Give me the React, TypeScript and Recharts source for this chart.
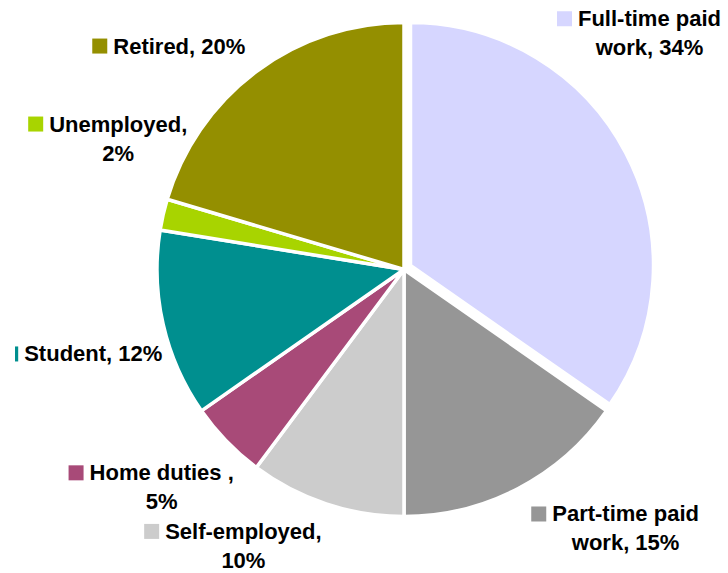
import React from 'react';
import { PieChart, Pie, Cell } from 'recharts';

// chart values (share of respondents, %)
const categories = [
  'Full-time paid work',
  'Part-time paid work',
  'Self-employed',
  'Home duties ',
  'Student',
  'Unemployed',
  'Retired',
];
const shares = [34, 15, 10, 5, 12, 2, 20];
const colors = ['#D6D6FF', '#969696', '#CCCCCC', '#A84A78', '#008F8F', '#A8D400', '#948F00'];

// how each data label is broken into lines (as in the original)
const labelLines = [
  ['Full-time paid', 'work, 34%'],
  ['Part-time paid', 'work, 15%'],
  ['Self-employed,', '10%'],
  ['Home duties ,', '5%'],
  ['Student, 12%'],
  ['Unemployed,', '2%'],
  ['Retired, 20%'],
];

// manual nudges of the labels, relative to the slice's arc midpoint
const labelNudge: [number, number][] = [
  [-45, -129],
  [34, 33],
  [-161, 35],
  [-137, 39],
  [-139, 37],
  [-114, -83],
  [-143, -18],
];

const data = categories.map((name, i) => ({ name, value: shares[i] }));

const FONT = 'bold 22px "Liberation Sans", Arial, sans-serif';
const RADIAN = Math.PI / 180;

let ctx: CanvasRenderingContext2D | null = null;
const measure = (s: string) => {
  if (!ctx) ctx = document.createElement('canvas').getContext('2d');
  if (!ctx) return s.length * 12;
  ctx.font = FONT;
  return ctx.measureText(s).width;
};

const renderLabel = (props: any) => {
  const { cx, cy, midAngle, outerRadius, index } = props;
  const ax = cx + outerRadius * Math.cos(-midAngle * RADIAN);
  const ay = cy + outerRadius * Math.sin(-midAngle * RADIAN);
  const x = ax + labelNudge[index][0];
  const y = ay + labelNudge[index][1];
  const lines = labelLines[index];
  const w = measure(lines[0]);
  const markerLeft = Math.max(x - 21, 15);
  return (
    <g key={`lbl-${index}`}>
      <rect x={markerLeft} y={y - 15} width={x - 6 - markerLeft} height={15} fill={colors[index]} />
      {lines.map((t, j) => (
        <text
          key={j}
          x={j === 0 ? x : x + w / 2}
          y={y + j * 29}
          textAnchor={j === 0 ? 'start' : 'middle'}
          fill="#000"
          style={{ font: FONT }}
        >
          {t}
        </text>
      ))}
    </g>
  );
};

export default function App() {
  return (
    <div style={{ position: 'absolute', left: 0, top: 0, background: '#fff' }}>
      <PieChart width={728} height={573} margin={{ top: 0, right: 0, bottom: 0, left: 0 }}>
        <Pie
          data={data}
          dataKey="value"
          nameKey="name"
          cx={404}
          cy={269.5}
          outerRadius={247}
          startAngle={90}
          endAngle={-270}
          stroke="#fff"
          strokeWidth={3.5}
          label={renderLabel}
          labelLine={false}
          isAnimationActive={false}
        >
          {data.map((d, i) => (
            <Cell key={d.name} fill={i === 0 ? 'none' : colors[i]} stroke={i === 0 ? 'none' : '#fff'} />
          ))}
        </Pie>
        {/* exploded first slice */}
        <Pie
          data={data}
          dataKey="value"
          nameKey="name"
          cx={410.5}
          cy={265.5}
          outerRadius={243}
          startAngle={90}
          endAngle={-270}
          strokeWidth={3.5}
          isAnimationActive={false}
        >
          {data.map((d, i) => (
            <Cell key={d.name} fill={i === 0 ? colors[0] : 'none'} stroke={i === 0 ? '#fff' : 'none'} />
          ))}
        </Pie>
      </PieChart>
    </div>
  );
}
